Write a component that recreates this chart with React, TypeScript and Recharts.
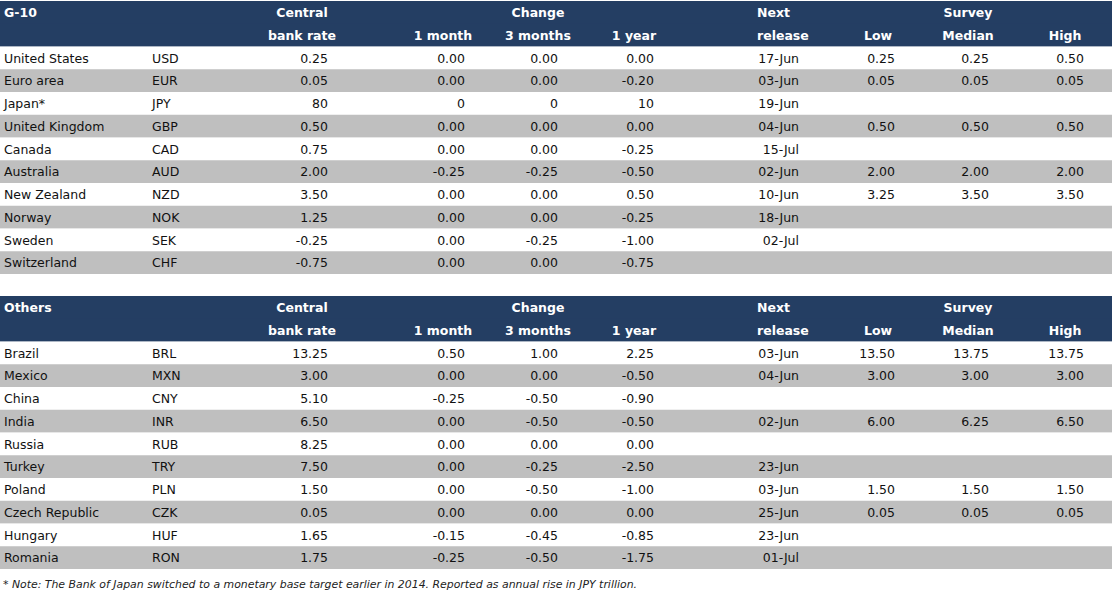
import React from "react";
import { BarChart, Bar, XAxis, YAxis, Cell, LabelList } from "recharts";

// G-10 table
const g10Countries = ["United States", "Euro area", "Japan*", "United Kingdom", "Canada", "Australia", "New Zealand", "Norway", "Sweden", "Switzerland"];
const g10Currencies = ["USD", "EUR", "JPY", "GBP", "CAD", "AUD", "NZD", "NOK", "SEK", "CHF"];
const g10Rate = ["0.25", "0.05", "80", "0.50", "0.75", "2.00", "3.50", "1.25", "-0.25", "-0.75"];
const g10Chg1m = ["0.00", "0.00", "0", "0.00", "0.00", "-0.25", "0.00", "0.00", "0.00", "0.00"];
const g10Chg3m = ["0.00", "0.00", "0", "0.00", "0.00", "-0.25", "0.00", "0.00", "-0.25", "0.00"];
const g10Chg1y = ["0.00", "-0.20", "10", "0.00", "-0.25", "-0.50", "0.50", "-0.25", "-1.00", "-0.75"];
const g10Next = ["17-Jun", "03-Jun", "19-Jun", "04-Jun", "15-Jul", "02-Jun", "10-Jun", "18-Jun", "02-Jul", ""];
const g10Low = ["0.25", "0.05", "", "0.50", "", "2.00", "3.25", "", "", ""];
const g10Median = ["0.25", "0.05", "", "0.50", "", "2.00", "3.50", "", "", ""];
const g10High = ["0.50", "0.05", "", "0.50", "", "2.00", "3.50", "", "", ""];

// Others table
const othCountries = ["Brazil", "Mexico", "China", "India", "Russia", "Turkey", "Poland", "Czech Republic", "Hungary", "Romania"];
const othCurrencies = ["BRL", "MXN", "CNY", "INR", "RUB", "TRY", "PLN", "CZK", "HUF", "RON"];
const othRate = ["13.25", "3.00", "5.10", "6.50", "8.25", "7.50", "1.50", "0.05", "1.65", "1.75"];
const othChg1m = ["0.50", "0.00", "-0.25", "0.00", "0.00", "0.00", "0.00", "0.00", "-0.15", "-0.25"];
const othChg3m = ["1.00", "0.00", "-0.50", "-0.50", "0.00", "-0.25", "-0.50", "0.00", "-0.45", "-0.50"];
const othChg1y = ["2.25", "-0.50", "-0.90", "-0.50", "0.00", "-2.50", "-1.00", "0.00", "-0.85", "-1.75"];
const othNext = ["03-Jun", "04-Jun", "", "02-Jun", "", "23-Jun", "03-Jun", "25-Jun", "23-Jun", "01-Jul"];
const othLow = ["13.50", "3.00", "", "6.00", "", "", "1.50", "0.05", "", ""];
const othMedian = ["13.75", "3.00", "", "6.25", "", "", "1.50", "0.05", "", ""];
const othHigh = ["13.75", "3.00", "", "6.50", "", "", "1.50", "0.05", "", ""];

const headTop = ["", "Central", "", "Change", "", "Next", "", "Survey", ""];
const headBottom = ["", "bank rate", "1 month", "3 months", "1 year", "release", "Low", "Median", "High"];

const NAVY = "#243e63";
const GREY = "#bfbfbf";
const FONT = "'DejaVu Sans', Verdana, sans-serif";

// column x positions: data cells
const dataCols = [
  { x: 4, anchor: "start" },
  { x: 152, anchor: "start" },
  { x: 328, anchor: "end" },
  { x: 465, anchor: "end" },
  { x: 558, anchor: "end" },
  { x: 654, anchor: "end" },
  { x: 799, anchor: "end" },
  { x: 895, anchor: "end" },
  { x: 989, anchor: "end" },
  { x: 1084, anchor: "end" },
];

// header cells (first is the table title)
const headCols = [
  { x: 4, anchor: "start" },
  { x: 302, anchor: "middle" },
  { x: 443, anchor: "middle" },
  { x: 538, anchor: "middle" },
  { x: 634, anchor: "middle" },
  { x: 757, anchor: "start" },
  { x: 878, anchor: "middle" },
  { x: 968, anchor: "middle" },
  { x: 1065, anchor: "middle" },
];

function buildRows(title: string, cols: string[][]) {
  const rows: any[] = [];
  const top: any = { key: "h0", band: 1, kind: "head" };
  const bottom: any = { key: "h1", band: 1, kind: "head" };
  headTop.forEach((t, i) => (top["h" + i] = i === 0 ? title : t));
  headBottom.forEach((t, i) => (bottom["h" + i] = t));
  rows.push(top, bottom);
  cols[0].forEach((_, r) => {
    const row: any = { key: "r" + r, band: 1, kind: r % 2 === 0 ? "white" : "grey" };
    cols.forEach((c, i) => (row["d" + i] = c[r]));
    rows.push(row);
  });
  return rows;
}

const g10Rows = buildRows("G-10", [g10Countries, g10Currencies, g10Rate, g10Chg1m, g10Chg3m, g10Chg1y, g10Next, g10Low, g10Median, g10High]);
const othRows = buildRows("Others", [othCountries, othCurrencies, othRate, othChg1m, othChg3m, othChg1y, othNext, othLow, othMedian, othHigh]);

const cellText = (rows: any[], field: string, col: { x: number; anchor: string }, head: boolean) => (props: any) => {
  const vb = props.viewBox || props;
  const row = rows[props.index];
  const value = props.value ?? (row ? row[field] : undefined);
  if (value === undefined || value === null || value === "") return null;
  return (
    <text
      x={col.x}
      y={vb.y + vb.height / 2}
      textAnchor={col.anchor as any}
      dominantBaseline="central"
      fontFamily={FONT}
      fontSize={12.5}
      fontWeight={head ? "bold" : "normal"}
      fill={head ? "#ffffff" : "#111111"}
    >
      {value}
    </text>
  );
};

const RateTable = ({ rows }: { rows: any[] }) => (
  <BarChart
    width={1112}
    height={273}
    data={rows}
    layout="vertical"
    margin={{ top: 0, right: 0, bottom: 0, left: 0 }}
    barCategoryGap={0}
  >
    <XAxis type="number" domain={[0, 1]} height={0} hide />
    <YAxis type="category" dataKey="key" width={0} hide />
    <Bar dataKey="band" isAnimationActive={false}>
      {rows.map((r, i) => (
        <Cell key={i} fill={r.kind === "head" ? NAVY : r.kind === "grey" ? GREY : "#ffffff"} />
      ))}
      {headCols.map((c, i) => (
        <LabelList key={"h" + i} dataKey={"h" + i} content={cellText(rows, "h" + i, c, true)} />
      ))}
      {dataCols.map((c, i) => (
        <LabelList key={"d" + i} dataKey={"d" + i} content={cellText(rows, "d" + i, c, false)} />
      ))}
    </Bar>
  </BarChart>
);

export default function App() {
  return (
    <div style={{ position: "absolute", left: 0, top: 0, width: 1112, height: 594, background: "#fff" }}>
      <div style={{ position: "absolute", left: 0, top: 1 }}>
        <RateTable rows={g10Rows} />
      </div>
      <div style={{ position: "absolute", left: 0, top: 296 }}>
        <RateTable rows={othRows} />
      </div>
      <div
        style={{
          position: "absolute",
          left: 3,
          top: 578,
          fontFamily: FONT,
          fontStyle: "italic",
          fontSize: 10.9,
          color: "#222",
          whiteSpace: "nowrap",
        }}
      >
        * Note: The Bank of Japan switched to a monetary base target earlier in 2014. Reported as annual rise in JPY trillion.
      </div>
    </div>
  );
}
